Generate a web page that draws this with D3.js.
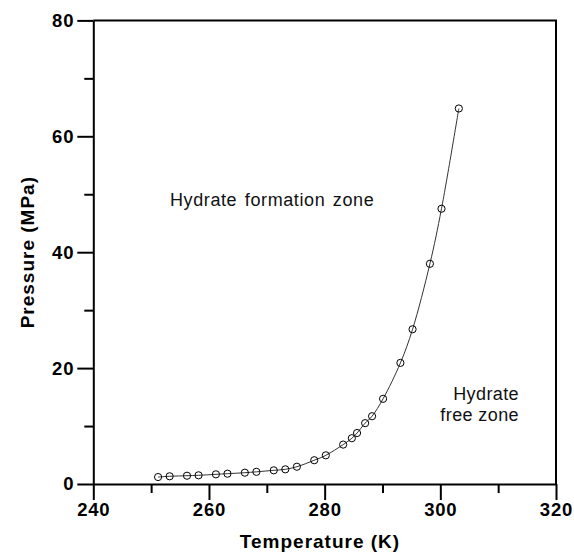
<!DOCTYPE html>
<html>
<head>
<meta charset="utf-8">
<script src="https://cdn.jsdelivr.net/npm/d3@7"></script>
<style>
  body { margin: 0; background: #fff; }
  svg { display: block; }
</style>
</head>
<body>
<svg id="chart" width="574" height="557"></svg>
<script>
// ---- data ----
const temperatureK = [251.2, 253.2, 256.2, 258.2, 261.2, 263.2, 266.2, 268.2, 271.2, 273.2, 275.2, 278.2, 280.2, 283.2, 284.7, 285.6, 287.0, 288.2, 290.1, 293.1, 295.2, 298.2, 300.2, 303.2];
const pressureMPa  = [1.2, 1.33, 1.43, 1.5, 1.67, 1.78, 1.95, 2.1, 2.36, 2.53, 2.98, 4.1, 4.95, 6.8, 7.9, 8.8, 10.5, 11.7, 14.7, 20.9, 26.7, 38.0, 47.5, 64.8];
const xMajorTicks = [240, 260, 280, 300, 320];
const xMinorTicks = [250, 270, 290, 310];
const yMajorTicks = [0, 20, 40, 60, 80];
const yMinorTicks = [10, 30, 50, 70];
const xTitle = "Temperature (K)";
const yTitle = "Pressure (MPa)";
const zoneLabelA = ["Hydrate formation zone"];
const zoneLabelB = ["Hydrate", "free zone"];

(function () {
// ---- layout ----
const pLeft = 93.3, pRight = 556, pTop = 20.4, pBottom = 484;
const svg = d3.select("#chart");
const x = d3.scaleLinear().domain([240, 320]).range([pLeft, pRight]);
const y = d3.scaleLinear().domain([0, 80]).range([pBottom, pTop]);
const boldFont = "'Liberation Sans', Arial, sans-serif";

// frame (top and right)
svg.append("path")
  .attr("d", `M${pLeft},${pTop}H${pRight}V${pBottom}`)
  .attr("fill", "none").attr("stroke", "#000").attr("stroke-width", 2);

// x axis
svg.append("g").attr("transform", `translate(0,${pBottom})`)
  .call(d3.axisBottom(x).tickValues(xMajorTicks).tickSize(16).tickSizeOuter(0).tickPadding(3).tickFormat(d3.format("d")));
svg.append("g").attr("transform", `translate(0,${pBottom})`)
  .call(d3.axisBottom(x).tickValues(xMinorTicks).tickSize(9).tickSizeOuter(0).tickFormat(""))
  .call(g => g.select(".domain").remove());

// y axis
svg.append("g").attr("transform", `translate(${pLeft},0)`)
  .call(d3.axisLeft(y).tickValues(yMajorTicks).tickSize(16).tickSizeOuter(0).tickPadding(3).tickFormat(d3.format("d")));
svg.append("g").attr("transform", `translate(${pLeft},0)`)
  .call(d3.axisLeft(y).tickValues(yMinorTicks).tickSize(9).tickSizeOuter(0).tickFormat(""))
  .call(g => g.select(".domain").remove());

svg.selectAll(".domain, .tick line").attr("stroke", "#000").attr("stroke-width", 2);
svg.selectAll(".tick text")
  .attr("fill", "#000")
  .style("font-family", boldFont).style("font-weight", "bold").style("font-size", "18.5px")
  .style("letter-spacing", "0.8px");

// axis titles
svg.append("text").attr("x", 320).attr("y", 548)
  .attr("text-anchor", "middle")
  .style("font-family", boldFont).style("font-weight", "bold").style("font-size", "19px")
  .style("letter-spacing", "1px")
  .text(xTitle);
svg.append("text").attr("transform", `translate(34,${(pTop + pBottom) / 2}) rotate(-90)`)
  .attr("text-anchor", "middle")
  .style("font-family", boldFont).style("font-weight", "bold").style("font-size", "19px")
  .style("letter-spacing", "1px")
  .text(yTitle);

// curve
const pts = temperatureK.map((t, i) => [t, pressureMPa[i]]);
const line = d3.line().x(d => x(d[0])).y(d => y(d[1])).curve(d3.curveCatmullRom.alpha(0.5));
svg.append("path").datum(pts).attr("d", line)
  .attr("fill", "none").attr("stroke", "#333").attr("stroke-width", 1);

// markers
svg.append("g").selectAll("circle").data(pts).join("circle")
  .attr("cx", d => x(d[0])).attr("cy", d => y(d[1])).attr("r", 3.6)
  .attr("fill", "none").attr("stroke", "#000").attr("stroke-width", 1);

// zone labels
const regFont = "'Liberation Sans', Arial, sans-serif";
svg.append("text").attr("x", 170).attr("y", 206)
  .style("font-family", regFont).style("font-size", "18px").style("letter-spacing", "0.6px")
  .style("word-spacing", "2px").attr("fill", "#111")
  .text(zoneLabelA[0]);
svg.append("g").selectAll("text").data(zoneLabelB).join("text")
  .attr("x", 519).attr("y", (d, i) => 400 + i * 21)
  .attr("text-anchor", "end")
  .style("font-family", regFont).style("font-size", "18px").style("letter-spacing", "0.4px")
  .attr("fill", "#111")
  .text(d => d);
})();
</script>
</body>
</html>
